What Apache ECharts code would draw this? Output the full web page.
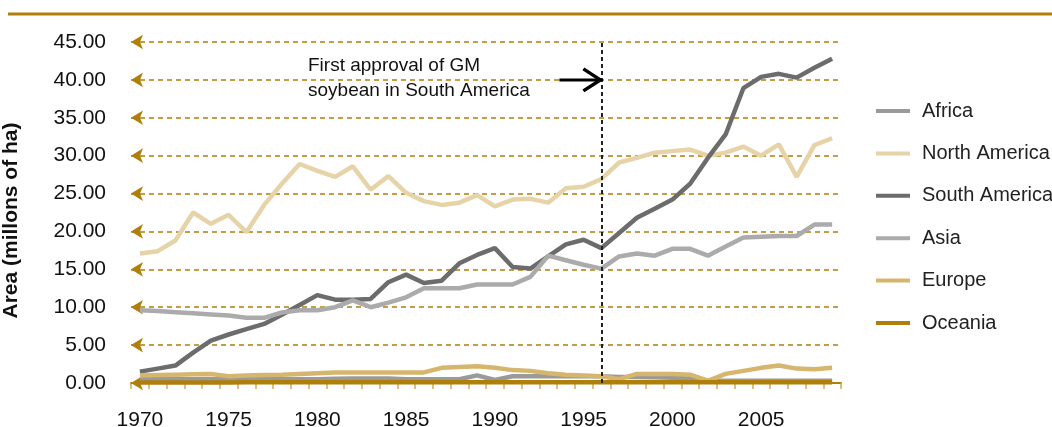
<!DOCTYPE html>
<html>
<head>
<meta charset="utf-8">
<script src="https://cdn.jsdelivr.net/npm/echarts@6/dist/echarts.min.js"></script>
<style>
  html, body { margin: 0; padding: 0; background: #fff; }
  #chart { width: 1052px; height: 427px; }
</style>
</head>
<body>
<div id="chart"></div>
<script>
// soybean area by region, millions of ha
var years = ['1970','1971','1972','1973','1974','1975','1976','1977','1978','1979',
             '1980','1981','1982','1983','1984','1985','1986','1987','1988','1989',
             '1990','1991','1992','1993','1994','1995','1996','1997','1998','1999',
             '2000','2001','2002','2003','2004','2005','2006','2007','2008','2009'];
var africa = [0.5,0.5,0.5,0.5,0.5,0.5,0.5,0.5,0.5,0.5,
              0.5,0.55,0.6,0.6,0.6,0.5,0.5,0.5,0.5,1.0,
              0.4,0.9,0.9,0.9,0.9,0.9,0.9,0.8,0.8,0.75,
              0.7,0.65,0.3,0.3,0.3,0.3,0.3,0.3,0.3,0.3];
var northAmerica = [17.1,17.4,18.8,22.5,21.0,22.2,19.9,23.5,26.3,28.9,
                    28.0,27.2,28.6,25.5,27.3,25.1,24.0,23.5,23.8,24.8,
                    23.3,24.2,24.3,23.8,25.7,25.9,26.9,29.1,29.7,30.4,
                    30.6,30.8,30.0,30.4,31.2,30.0,31.5,27.2,31.4,32.3];
var southAmerica = [1.5,1.9,2.3,4.0,5.6,6.4,7.1,7.8,9.0,10.3,
                    11.6,11.0,11.0,11.1,13.3,14.3,13.2,13.5,15.8,16.9,
                    17.8,15.3,15.1,16.7,18.3,18.9,17.8,19.8,21.8,23.0,
                    24.2,26.3,29.7,32.8,38.9,40.4,40.8,40.3,41.6,42.8];
var asia = [9.6,9.5,9.35,9.2,9.05,8.9,8.6,8.6,9.3,9.6,
            9.6,10.0,10.9,10.0,10.6,11.3,12.5,12.5,12.5,13.0,
            13.0,13.0,14.0,16.8,16.2,15.6,15.1,16.7,17.1,16.8,
            17.7,17.7,16.8,18.0,19.2,19.3,19.4,19.4,20.9,20.9];
var europe = [1.0,1.05,1.1,1.15,1.2,0.9,1.0,1.05,1.1,1.2,
              1.3,1.4,1.4,1.4,1.4,1.4,1.4,2.0,2.1,2.2,
              2.0,1.7,1.6,1.3,1.1,1.0,0.9,0.5,1.2,1.2,
              1.2,1.1,0.3,1.2,1.6,2.0,2.3,1.9,1.8,2.0];
var oceania = [0.05,0.05,0.05,0.06,0.07,0.08,0.1,0.1,0.1,0.1,
               0.1,0.1,0.1,0.1,0.1,0.1,0.1,0.1,0.1,0.1,
               0.1,0.1,0.1,0.1,0.1,0.1,0.1,0.1,0.1,0.1,
               0.1,0.1,0.1,0.1,0.1,0.1,0.1,0.1,0.1,0.1];
var yTicks = [0,5,10,15,20,25,30,35,40,45];
var approvalYear = '1996';

var numFont = 'Liberation Sans, Arial, sans-serif';
var gold = '#b07f0a';

var myChart = echarts.init(document.getElementById('chart'));

function lineSeries(name, data, color){
    return {
        name: name,
        type: 'line',
        data: data,
        symbol: 'none',
        showSymbol: false,
        lineStyle: { color: color, width: 4.5 },
        itemStyle: { color: color },
        emphasis: { disabled: true },
        z: 3
    };
}

var option = {
    animation: false,
    grid: { left: 131, right: 211, top: 42, bottom: 44, containLabel: false, outerBoundsMode: 'none' },
    legend: {
        data: ['Africa','North America','South America','Asia','Europe','Oceania'],
        orient: 'vertical',
        left: 871,
        top: 96,
        icon: 'rect',
        itemWidth: 34,
        itemHeight: 4,
        itemGap: 22.4,
        selectedMode: false,
        textStyle: { fontFamily: numFont, fontSize: 20, color: '#222', padding: [0,0,0,7] }
    },
    xAxis: {
        type: 'category',
        data: years,
        boundaryGap: true,
        axisLine: { show: true, lineStyle: { color: gold, width: 2 } },
        axisTick: { show: true, interval: 0, length: 6, lineStyle: { color: '#cfa95a', width: 1.5 } },
        axisLabel: { interval: 4, margin: 27, fontFamily: numFont, fontSize: 21, color: '#111' },
        splitLine: { show: false }
    },
    yAxis: {
        type: 'value',
        min: 0,
        max: 45,
        interval: 5,
        name: 'Area (millons of ha)',
        nameLocation: 'middle',
        nameRotate: 90,
        nameGap: 109,
        nameTextStyle: { fontFamily: numFont, fontWeight: 'bold', fontSize: 21, color: '#111', padding: [0, 16, 0, 0] },
        axisLine: { show: false },
        axisTick: { show: false },
        splitLine: { show: false },
        axisLabel: {
            margin: 25,
            fontFamily: numFont,
            fontSize: 21,
            color: '#111',
            formatter: function (v) { return v.toFixed(2); }
        }
    },
    series: [
        {
            // gridlines with arrow heads on the left
            name: 'grid',
            type: 'line',
            data: [],
            z: 1,
            markLine: {
                silent: true,
                z: 1,
                symbol: ['arrow', 'none'],
                symbolSize: [11, 12],
                label: { show: false },
                lineStyle: { color: gold, type: [5, 4], width: 1.5 },
                emphasis: { disabled: true },
                data: yTicks.map(function (v) { return { yAxis: v }; })
            }
        },
        lineSeries('Africa', africa, '#9a9a9a'),
        lineSeries('North America', northAmerica, '#e6d4a8'),
        lineSeries('South America', southAmerica, '#6c6c6c'),
        lineSeries('Asia', asia, '#ababab'),
        lineSeries('Europe', europe, '#d6b56c'),
        lineSeries('Oceania', oceania, gold),
        {
            name: 'approval',
            type: 'line',
            data: [],
            markLine: {
                silent: true,
                symbol: 'none',
                label: { show: false },
                lineStyle: { color: '#222', type: [4, 3], width: 2 },
                emphasis: { disabled: true },
                data: [{ xAxis: approvalYear }]
            }
        }
    ]
};
myChart.setOption(option);

// annotation arrow pointing at the approval line
var p = myChart.convertToPixel({ xAxisIndex: 0, yAxisIndex: 0 }, [approvalYear, 40]);
myChart.setOption({
    graphic: [
        {
            type: 'line',
            shape: { x1: 8, y1: 14, x2: 1052, y2: 14 },
            style: { stroke: gold, lineWidth: 3 }
        },
        {
            type: 'text',
            left: 308,
            top: 53,
            style: {
                text: 'First approval of GM\nsoybean in South America',
                font: '19px ' + numFont,
                lineHeight: 25,
                fill: '#111'
            }
        },
        {
            type: 'line',
            z: 10,
            shape: { x1: p[0] - 42, y1: p[1], x2: p[0] - 1, y2: p[1] },
            style: { stroke: '#000', lineWidth: 3 }
        },
        {
            type: 'polyline',
            z: 10,
            shape: { points: [[p[0] - 18, p[1] - 11], [p[0] - 1, p[1]], [p[0] - 18, p[1] + 11]] },
            style: { stroke: '#000', lineWidth: 3.5, fill: null }
        }
    ]
});
</script>
</body>
</html>
